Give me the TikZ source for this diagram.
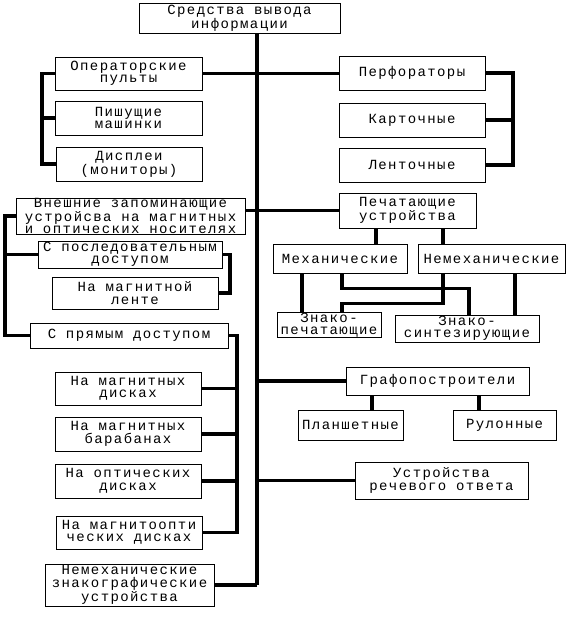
\documentclass[tikz,border=0pt]{standalone}
\usepackage{fontspec}
\newfontfamily\monofont{Liberation Mono}[LetterSpace=10]
\usetikzlibrary{positioning}
\begin{document}
\begin{tikzpicture}[x=1pt,y=-1pt,
  blk/.style={rectangle, draw, line width=0.8pt, inner sep=0pt, align=center, fill=white,
    font=\monofont\fontsize{14}{12.5}\selectfont},
  link/.style={line width=3.5pt}]
  \useasboundingbox (0,0) rectangle (568,642);
  \node[blk, minimum width=201pt, minimum height=30pt] (out) at (239.5,18) {Средства вывода\\информации};
  \node[blk, minimum width=147pt, minimum height=33pt] (oper) at (128.5,73.5) {Операторские\\пульты};
  \node[blk, minimum width=147pt, minimum height=34pt] (pish) at (128.5,118) {Пишущие\\машинки};
  \node[blk, minimum width=146pt, minimum height=34pt] (displ) at (129,164) {Дисплеи\\(мониторы)};
  \node[blk, minimum width=146pt, minimum height=34pt] (perf) at (412,73) {Перфораторы};
  \node[blk, minimum width=146pt, minimum height=34pt] (kart) at (412,120) {Карточные};
  \node[blk, minimum width=146pt, minimum height=34pt] (lent) at (412,165) {Ленточные};
  \node[blk, minimum width=229pt, minimum height=36pt] (vnesh) at (130.5,216) {Внешние запоминающие\\устройсва на магнитных\\и оптических носителях};
  \node[blk, minimum width=137pt, minimum height=35pt] (pech) at (407.5,210.5) {Печатающие\\устройства};
  \node[blk, minimum width=184pt, minimum height=27pt] (posl) at (130,254.5) {С последовательным\\доступом};
  \node[blk, minimum width=166pt, minimum height=32pt] (lenta) at (135,293) {На магнитной\\ленте};
  \node[blk, minimum width=198pt, minimum height=25pt] (pryam) at (129,335.5) {С прямым доступом};
  \node[blk, minimum width=146pt, minimum height=33pt] (mdisk) at (128,388.5) {На магнитных\\дисках};
  \node[blk, minimum width=146pt, minimum height=34pt] (mbar) at (128,434) {На магнитных\\барабанах};
  \node[blk, minimum width=146pt, minimum height=34pt] (opt) at (128,481) {На оптических\\дисках};
  \node[blk, minimum width=146pt, minimum height=33pt] (mopt) at (129,532.5) {На магнитоопти\\ческих дисках};
  \node[blk, minimum width=169pt, minimum height=42pt] (nemzn) at (129.5,585) {Немеханические\\знакографические\\устройства};
  \node[blk, minimum width=134pt, minimum height=29pt] (mech) at (340,258.5) {Механические};
  \node[blk, minimum width=147pt, minimum height=29pt] (nemech) at (491.5,258.5) {Немеханические};
  \node[blk, minimum width=104pt, minimum height=24pt] (znpech) at (329,325) {Знако-\\печатающие};
  \node[blk, minimum width=144pt, minimum height=27pt] (znsint) at (467,328.5) {Знако-\\синтезирующие};
  \node[blk, minimum width=183pt, minimum height=28pt] (graf) at (437.5,381) {Графопостроители};
  \node[blk, minimum width=105pt, minimum height=30pt] (plansh) at (350.5,425) {Планшетные};
  \node[blk, minimum width=103pt, minimum height=30pt] (rulon) at (504.5,425) {Рулонные};
  \node[blk, minimum width=173pt, minimum height=37pt] (rech) at (441.5,480.5) {Устройства\\речевого ответа};

  \coordinate (trunk) at (257,585);
  \coordinate (lpult) at (42,0);
  \coordinate (rperf) at (513,0);
  \coordinate (lzu) at (5,0);
  \coordinate (rposl) at (230,0);
  \coordinate (rpryam) at (237,0);
  \coordinate (pm) at (376,0);
  \coordinate (pn) at (443,0);
  \coordinate (mz) at (302,0);
  \coordinate (mx) at (342,0);
  \coordinate (nz) at (515,0);
  \coordinate (sx) at (469,0);
  \coordinate (gp) at (372,0);
  \coordinate (gr) at (479,0);

  \draw[link] (trunk |- out.south) -- (trunk);
  \draw[link] (oper.east) -- (oper.east -| perf.west);
  \draw[link] (vnesh.east |- pech.west) -- (pech.west);
  \draw[link] (nemzn.east) -- (nemzn.east -| trunk);
  \draw[link] (graf.west -| trunk) -- (graf.west);
  \draw[link] (rech.west -| trunk) -- (rech.west);

  \draw[link] (oper.west) -- (oper.west -| lpult) -- (displ.west -| lpult) -- (displ.west);
  \draw[link] (pish.west) -- (pish.west -| lpult);
  \draw[link] (perf.east) -- (perf.east -| rperf) -- (lent.east -| rperf) -- (lent.east);
  \draw[link] (kart.east) -- (kart.east -| rperf);

  \draw[link] (vnesh.west) -- (vnesh.west -| lzu) -- (pryam.west -| lzu) -- (pryam.west);
  \draw[link] (posl.west) -- (posl.west -| lzu);
  \draw[link] (posl.east) -- (posl.east -| rposl) -- (lenta.east -| rposl) -- (lenta.east);
  \draw[link] (pryam.east) -- (pryam.east -| rpryam) -- (mopt.east -| rpryam) -- (mopt.east);
  \foreach \n in {mdisk, mbar, opt}
    \draw[link] (\n.east) -- (\n.east -| rpryam);

  \draw[link] (pech.south -| pm) -- (mech.north -| pm);
  \draw[link] (pech.south -| pn) -- (nemech.north -| pn);
  \draw[link] (mech.south -| mz) -- (znpech.north -| mz);
  \draw[link] (mech.south -| mx) -- ++(0,15) -| (znsint.north -| sx);
  \draw[link] (nemech.south -| pn) -- ++(0,30) -| (znpech.north -| mx);
  \draw[link] (nemech.south -| nz) -- (znsint.north -| nz);
  \draw[link] (graf.south -| gp) -- (plansh.north -| gp);
  \draw[link] (graf.south -| gr) -- (rulon.north -| gr);
\end{tikzpicture}
\end{document}
